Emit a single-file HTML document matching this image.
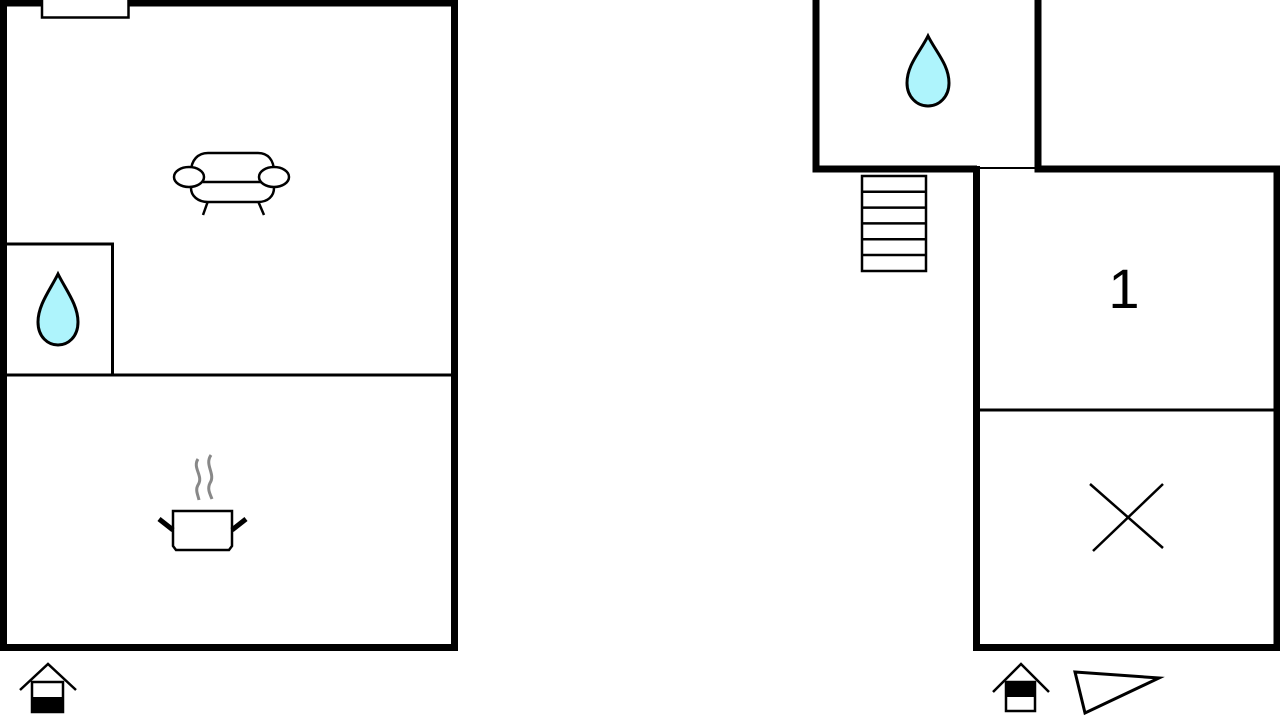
<!DOCTYPE html>
<html><head><meta charset="utf-8"><style>html,body{margin:0;padding:0;background:#fff;overflow:hidden}</style></head>
<body>
<svg width="1280" height="720" viewBox="0 0 1280 720" xmlns="http://www.w3.org/2000/svg">
<rect width="1280" height="720" fill="#fff"/>
<!-- left building -->
<path d="M3.5 0 V647.5 H454.5 V3 H128 M3.5 3 H42" fill="none" stroke="#000" stroke-width="7"/>
<path d="M42 0 V17.5 H128.5 V0" fill="none" stroke="#000" stroke-width="2.5"/>
<line x1="6" y1="375" x2="452" y2="375" stroke="#000" stroke-width="3"/>
<path d="M6 244 H112.5 V375" fill="none" stroke="#000" stroke-width="3"/>
<!-- drop left -->
<path d="M58 274 C50 290 38 305 38 322 C38 337 48 345 58 345 C68 345 78 337 78 322 C78 305 66 290 58 274 Z" fill="#aef4fc" stroke="#000" stroke-width="3"/>
<!-- sofa -->
<g fill="#fff" stroke="#000" stroke-width="2.5">
<line x1="208" y1="201" x2="203" y2="215"/><line x1="258" y1="201" x2="264" y2="215"/>
<path d="M191 172 C191 160 198 153 208 153 H258 C268 153 274 160 274 172 V188 C274 196 268 202 258 202 H208 C198 202 191 196 191 188 Z"/>
<line x1="203" y1="182" x2="263" y2="182"/>
<ellipse cx="189" cy="177" rx="15" ry="10"/>
<ellipse cx="274" cy="177" rx="15" ry="10"/>
</g>
<!-- pot -->
<path d="M198 459 C192 468 204 476 198 485 C195 490 198 495 199 500 M211 455 C204 465 216 474 210 483 C207 489 210 494 212 499" fill="none" stroke="#888" stroke-width="3"/>
<path d="M173 511 H232 V546 L229 550 H176 L173 546 Z" fill="#fff" stroke="#000" stroke-width="2.5"/>
<line x1="159" y1="519" x2="173" y2="530" stroke="#000" stroke-width="5"/>
<line x1="246" y1="519" x2="232" y2="530" stroke="#000" stroke-width="5"/>
<!-- house icons -->
<g stroke="#000" stroke-width="2.5" fill="none">
<polyline points="20,690 48,664 76,690"/>
<rect x="32" y="682" width="31" height="30" fill="#fff"/>
</g>
<rect x="32" y="697" width="31" height="15" fill="#000"/>
<g stroke="#000" stroke-width="2.5" fill="none">
<polyline points="993,692 1021,664 1049,692"/>
<rect x="1006" y="682" width="29" height="29" fill="#fff"/>
</g>
<rect x="1006" y="682" width="29" height="15" fill="#000"/>
<polygon points="1075,672 1159,678 1085,713" fill="#fff" stroke="#000" stroke-width="3"/>
<!-- right: bath room -->
<path d="M816 0 V169 H977" fill="none" stroke="#000" stroke-width="7"/>
<path d="M1038 0 V169 H1277 V647.5 H976.5 V166" fill="none" stroke="#000" stroke-width="7"/>
<line x1="977" y1="168" x2="1038" y2="168" stroke="#000" stroke-width="2"/>
<path d="M928 36 C920 52 907 65 907 83 C907 97 917 106 928 106 C939 106 949 97 949 83 C949 65 936 52 928 36 Z" fill="#aef4fc" stroke="#000" stroke-width="3"/>
<!-- stairs -->
<g stroke="#000" stroke-width="2.5" fill="none">
<rect x="862" y="176" width="64" height="95"/>
<line x1="862" y1="191.8" x2="926" y2="191.8"/>
<line x1="862" y1="207.6" x2="926" y2="207.6"/>
<line x1="862" y1="223.4" x2="926" y2="223.4"/>
<line x1="862" y1="239.2" x2="926" y2="239.2"/>
<line x1="862" y1="255" x2="926" y2="255"/>
</g>
<line x1="980" y1="410" x2="1274" y2="410" stroke="#000" stroke-width="3"/>
<text x="1124" y="308" font-family="Liberation Sans, sans-serif" font-size="56" text-anchor="middle" fill="#000">1</text>
<g stroke="#000" stroke-width="2.5">
<line x1="1090" y1="484" x2="1163" y2="548"/>
<line x1="1093" y1="551" x2="1163" y2="484"/>
</g>
</svg>
</body></html>
